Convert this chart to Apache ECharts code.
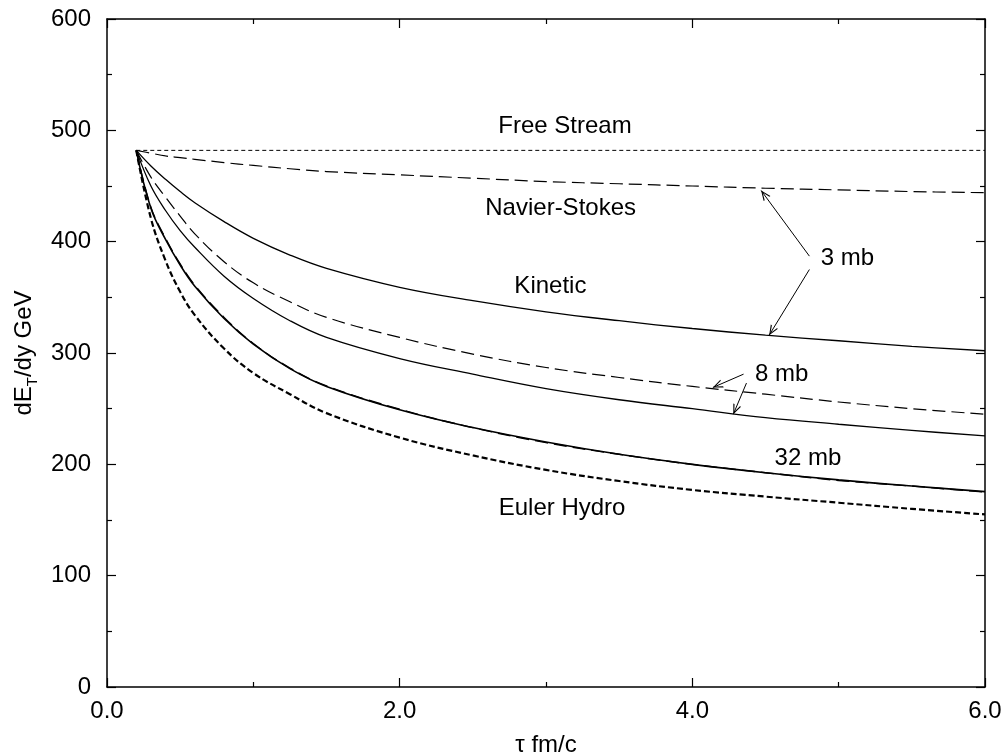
<!DOCTYPE html>
<html>
<head>
<meta charset="utf-8">
<script src="https://cdn.jsdelivr.net/npm/echarts@6/dist/echarts.min.js"></script>
<style>
html,body{margin:0;padding:0;background:#fff;}
#c{width:1007px;height:754px;}
</style>
</head>
<body>
<div id="c"></div>
<script>
// ---- data ----
const tau = [0.2, 0.3, 0.4, 0.5, 0.6, 0.8, 1.0, 1.25, 1.5, 2.0, 2.5, 3.0, 3.5, 4.0, 4.5, 5.0, 5.5, 6.0];
const freeStreamTau = [0.2, 6.0];
const freeStream = [482, 482];
const navierStokes3mb = [482, 479.5, 477, 475.5, 474, 471, 468.5, 465.5, 463, 460, 457, 454, 452, 450, 448, 446.5, 445, 444];
const kinetic3mb = [482, 468, 456, 445, 435, 418, 403, 388, 376, 359, 347, 337, 329, 322, 316, 311, 306, 302];
const navierStokes8mb = [482, 458, 440, 423, 407, 382, 363, 346, 332, 314, 299, 287, 278, 270, 263, 256, 250, 245];
const kinetic8mb = [482, 450, 428, 410, 395, 369, 349, 329, 314, 295, 281, 268, 258, 250, 242, 236, 230.5, 225.5];
const kinetic32mb = [482, 430, 402, 379, 360, 331, 308, 286, 270, 249, 233, 220, 209, 200, 192.5, 186, 180.5, 175.5];
const navierStokes32mb = [482, 431, 403, 380, 361, 332, 308.5, 286.5, 270.5, 249.5, 233, 219.5, 209, 200, 192.5, 185.5, 180.5, 175];
const eulerHydro = [482, 421, 383, 355, 334, 304, 282, 263, 246, 224, 208, 195, 185, 177, 171, 165.5, 160, 155];

const xTicks = [0, 2, 4, 6];
const yTicks = [0, 100, 200, 300, 400, 500, 600];

// annotation texts [x, y, text]
const labelTexts = [
  [3.13, 504, 'Free Stream'],
  [3.10, 429.5, 'Navier-Stokes'],
  [3.03, 360, 'Kinetic'],
  [5.06, 385, '3 mb'],
  [4.61, 281, '8 mb'],
  [4.79, 205, '32 mb'],
  [3.11, 160, 'Euler Hydro']
];
// arrows [fromX, fromY, toX, toY]
const arrows = [
  [4.80, 387, 4.47, 446],
  [4.80, 375, 4.525, 316],
  [4.35, 281, 4.14, 269],
  [4.37, 273, 4.28, 245]
];

const FONT = '"Liberation Sans", Arial, Helvetica, sans-serif';
const pairs = (xs, ys) => xs.map((x, i) => [x, ys[i]]);

function lineSeries(name, xs, ys, style) {
  return {
    name, type: 'line', data: pairs(xs, ys),
    showSymbol: false, symbol: 'none', smooth: 0.4,
    lineStyle: Object.assign({color: '#000', width: 1.2, type: 'solid'}, style),
    silent: true, animation: false, z: 3
  };
}

// open arrow head, tip at the centre of a 20x20 box
const arrowPath = 'path://M0,0 M20,20 M10,10 L5.8,20 L7.1,20 L10,12.6 L12.9,20 L14.2,20 Z';

const axisCommon = {
  type: 'value',
  axisLine: {show: true, onZero: false, lineStyle: {color: '#000', width: 1.5}},
  axisTick: {show: true, inside: true, length: 9, lineStyle: {color: '#000', width: 1.2}},
  minorTick: {show: true, splitNumber: 2, length: 5, lineStyle: {color: '#000', width: 1.2}},
  splitLine: {show: false},
  minorSplitLine: {show: false}
};

const option = {
  backgroundColor: '#fff',
  animation: false,
  textStyle: {fontFamily: FONT},
  grid: {left: 107, right: 22, top: 19, bottom: 67, containLabel: false, outerBoundsMode: 'none'},
  xAxis: [
    Object.assign({}, axisCommon, {
      position: 'bottom', min: 0, max: 6, interval: 2,
      axisLabel: {show: true, fontSize: 24, color: '#000', margin: 12, fontFamily: FONT,
        formatter: v => xTicks.includes(v) ? v.toFixed(1) : ''},
      name: 'τ fm/c', nameLocation: 'middle', nameGap: 46,
      nameTextStyle: {fontSize: 24, color: '#000', fontFamily: FONT}
    }),
    Object.assign({}, axisCommon, {
      position: 'top', min: 0, max: 6, interval: 2, axisLabel: {show: false}
    })
  ],
  yAxis: [
    Object.assign({}, axisCommon, {
      position: 'left', min: 0, max: 600, interval: 100,
      axisLabel: {show: true, fontSize: 24, color: '#000', margin: 16, fontFamily: FONT,
        formatter: v => yTicks.includes(v) ? String(v) : ''},
      name: '{a|dE}{s|T}{a|/dy GeV}', nameLocation: 'middle', nameGap: 66, nameRotate: 90,
      nameTextStyle: {
        color: '#000', fontFamily: FONT,
        rich: {
          a: {fontSize: 24, lineHeight: 32, verticalAlign: 'middle', color: '#000', fontFamily: FONT},
          s: {fontSize: 15, lineHeight: 32, verticalAlign: 'bottom', color: '#000', fontFamily: FONT}
        }
      }
    }),
    Object.assign({}, axisCommon, {
      position: 'right', min: 0, max: 600, interval: 100, axisLabel: {show: false}
    })
  ],
  series: [
    Object.assign(lineSeries('Free Stream', freeStreamTau, freeStream, {type: [4, 3], width: 1}), {
      smooth: false,
      markLine: {
        silent: true, animation: false,
        symbol: ['none', arrowPath],
        symbolSize: 20,
        label: {show: false},
        lineStyle: {color: '#000', width: 1, type: 'solid'},
        emphasis: {disabled: true},
        data: arrows.map(a => [{coord: [a[0], a[1]]}, {coord: [a[2], a[3]]}])
      }
    }),
    lineSeries('Navier-Stokes 3 mb', tau, navierStokes3mb, {type: [13, 6], width: 1.2}),
    lineSeries('Kinetic 3 mb', tau, kinetic3mb, {width: 1.3}),
    lineSeries('Navier-Stokes 8 mb', tau, navierStokes8mb, {type: [13, 6], width: 1.2}),
    lineSeries('Kinetic 8 mb', tau, kinetic8mb, {width: 1.3}),
    lineSeries('Kinetic 32 mb', tau, kinetic32mb, {width: 1.6}),
    lineSeries('Navier-Stokes 32 mb', tau, navierStokes32mb, {type: [13, 6], width: 1.4}),
    lineSeries('Euler Hydro', tau, eulerHydro, {type: [6, 3], width: 2.2}),
    {
      name: 'labels', type: 'scatter', symbolSize: 0, silent: true, animation: false,
      itemStyle: {opacity: 1},
      data: labelTexts.map(t => ({value: [t[0], t[1]], name: t[2]})),
      label: {show: true, position: 'inside', formatter: p => p.name,
        fontSize: 24, color: '#000', opacity: 1, fontFamily: FONT},
      labelLayout: {hideOverlap: false},
      z: 5
    }
  ]
};

const chart = echarts.init(document.getElementById('c'), null, {renderer: 'canvas'});
chart.setOption(option);
</script>
</body>
</html>
